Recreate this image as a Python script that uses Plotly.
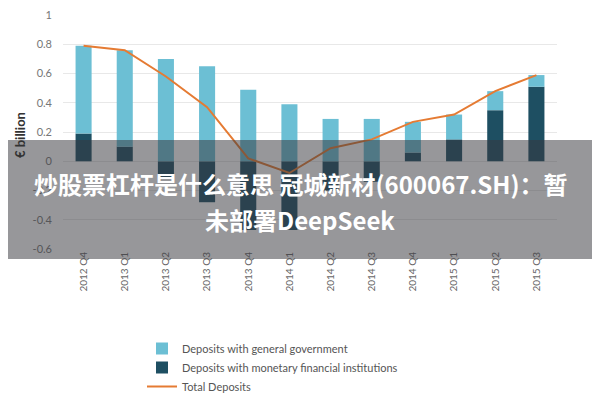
import plotly.graph_objects as go

categories = ["2012 Q4", "2013 Q1", "2013 Q2", "2013 Q3", "2013 Q4", "2014 Q1",
              "2014 Q2", "2014 Q3", "2014 Q4", "2015 Q1", "2015 Q2", "2015 Q3"]
gov_deposits = [0.60, 0.66, 0.70, 0.65, 0.49, 0.39, 0.29, 0.29, 0.21, 0.17, 0.13, 0.08]
mfi_deposits = [0.19, 0.10, -0.11, -0.28, -0.47, -0.47, -0.20, -0.14, 0.06, 0.15, 0.35, 0.51]
total_deposits = [0.79, 0.76, 0.58, 0.37, 0.02, -0.08, 0.09, 0.15, 0.27, 0.32, 0.48, 0.59]
y_ticks = [1, 0.8, 0.6, 0.4, 0.2, 0, -0.2, -0.4, -0.6]
y_tick_labels = ["1", "0.8", "0.6", "0.4", "0.2", "0", "-0.2", "-0.4", "-0.6"]

# page body has an 8px margin: figure origin sits at (8, 8) on screen
OFF = 8
W, H = 600 - OFF, 400 - OFF
ML, MR, MT, MB = 63 - OFF, 43, 15 - OFF, 151
PW, PH = W - ML - MR, H - MT - MB

def px_x(s):
    return (s - OFF - ML) / PW

def px_y(s):
    return (H - MB - (s - OFF)) / PH

fig = go.Figure()
fig.add_trace(go.Bar(x=categories, y=mfi_deposits, name="Deposits with monetary financial institutions",
                     marker=dict(color="#1E4F62", line=dict(width=0)), legendrank=2))
fig.add_trace(go.Bar(x=categories, y=gov_deposits, name="Deposits with general government",
                     marker=dict(color="#6CBFD4", line=dict(width=0)), legendrank=1))
fig.add_trace(go.Scatter(x=categories, y=total_deposits, name="Total Deposits", mode="lines",
                         line=dict(color="#E57B33", width=2), legendrank=3))

fig.update_layout(
    width=W, height=H,
    margin=dict(l=ML, r=MR, t=MT, b=MB, autoexpand=False),
    paper_bgcolor="white", plot_bgcolor="white",
    barmode="relative", bargap=0.61,
    font=dict(family="Lato, Open Sans, sans-serif", color="#555555", size=11),
    showlegend=True,
    legend=dict(x=(142 - OFF) / W, y=1 - (334 - OFF) / H, xref="container", yref="container",
                xanchor="left", yanchor="top",
                orientation="v", font=dict(size=11, color="#555555"),
                bgcolor="rgba(0,0,0,0)", tracegroupgap=0, itemwidth=30),
    xaxis=dict(tickangle=-90, tickfont=dict(size=10, color="#666666"), automargin=False,
               showgrid=False, showline=False, ticks="", range=[-0.5, 11.5]),
    yaxis=dict(range=[-0.6, 1.001], tickvals=y_ticks, ticktext=y_tick_labels, automargin=False,
               tickfont=dict(size=11, color="#777777"), showgrid=True,
               gridcolor="#E8E8E8", gridwidth=1, zeroline=False, showline=False,
               ticklabelstandoff=10, ticklabeloverflow="allow"),
)

# y-axis title
fig.add_annotation(xref="paper", yref="paper", x=px_x(20), y=px_y(135),
                   text="<b>€ billion</b>", textangle=-90, showarrow=False,
                   xanchor="center", yanchor="middle",
                   font=dict(size=13, color="#333333"))

# right-edge frame line
fig.add_shape(type="line", xref="paper", yref="paper",
              x0=px_x(597.5), x1=px_x(597.5), y0=px_y(OFF), y1=px_y(400),
              line=dict(color="#D0D0D0", width=1), layer="above")

# dark translucent overlay band
fig.add_shape(type="rect", xref="paper", yref="paper",
              x0=px_x(OFF), x1=px_x(600), y0=px_y(259), y1=px_y(140),
              fillcolor="rgba(55,55,62,0.52)", line=dict(width=0), layer="above")

fig.add_annotation(xref="paper", yref="paper", x=px_x(301), y=px_y(183),
                   text="<b>炒股票杠杆是什么意思 冠城新材(600067.SH)：暂</b>", showarrow=False,
                   xanchor="center", yanchor="middle",
                   font=dict(family="Noto Sans CJK SC", size=24, color="white"))
fig.add_annotation(xref="paper", yref="paper", x=px_x(300), y=px_y(219),
                   text="<b>未部署DeepSeek</b>", showarrow=False,
                   xanchor="center", yanchor="middle",
                   font=dict(family="Noto Sans CJK SC", size=24, color="white"))

fig.write_html("out.html")
